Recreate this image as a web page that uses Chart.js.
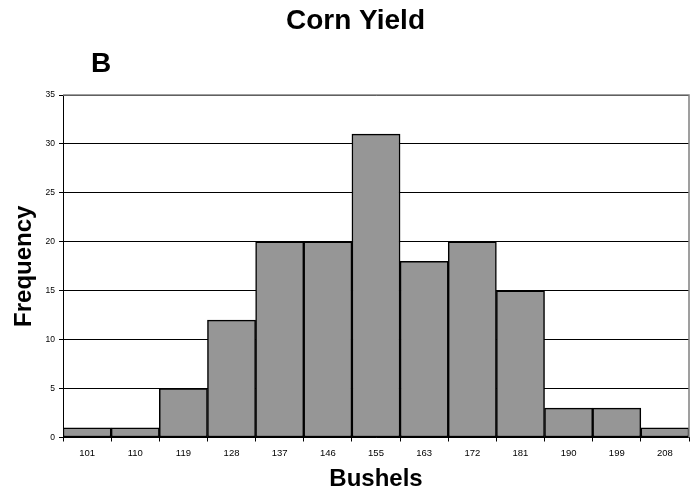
<!DOCTYPE html>
<html>
<head>
<meta charset="utf-8">
<script src="https://cdn.jsdelivr.net/npm/chart.js@4/dist/chart.umd.min.js"></script>
<style>
  body { margin: 0; background: #fff; }
  #wrap { width: 693px; height: 492px; }
</style>
</head>
<body>
<div id="wrap"><canvas id="cornChart" width="693" height="492"></canvas></div>
<script>
const categories = ["101", "110", "119", "128", "137", "146", "155", "163", "172", "181", "190", "199", "208"];
const frequency = [1, 1, 5, 12, 20, 20, 31, 18, 20, 15, 3, 3, 1];
const yMax = 35;
const yStep = 5;

const FONT = "'Liberation Sans', Arial, sans-serif";

// title, panel letter and the grey top/right frame
const extras = {
  id: "extras",
  afterDraw(chart) {
    const ctx = chart.ctx;
    const a = chart.chartArea;
    ctx.save();
    ctx.strokeStyle = "#808080";
    ctx.lineWidth = 1.5;
    ctx.beginPath();
    ctx.moveTo(a.left, a.top);
    ctx.lineTo(a.right, a.top);
    ctx.lineTo(a.right, a.bottom);
    ctx.stroke();

    ctx.fillStyle = "#000";
    ctx.textBaseline = "middle";
    ctx.textAlign = "center";
    ctx.font = "bold 28px " + FONT;
    ctx.fillText("Corn Yield", 355.5, 21);
    ctx.textAlign = "left";
    ctx.font = "bold 28px " + FONT;
    ctx.fillText("B", 91, 64);
    ctx.restore();
  }
};

new Chart(document.getElementById("cornChart"), {
  type: "bar",
  data: {
    labels: categories,
    datasets: [{
      label: "Frequency",
      data: frequency,
      backgroundColor: "#969696",
      borderColor: "#000",
      borderWidth: 1.5,
      borderSkipped: false,
      categoryPercentage: 1,
      barPercentage: 1
    }]
  },
  options: {
    responsive: false,
    animation: false,
    layout: { padding: { left: 0, right: 4, top: 95, bottom: 0 } },
    plugins: {
      legend: { display: false },
      tooltip: { enabled: false }
    },
    scales: {
      x: {
        offset: true,
        grid: { offset: true, drawOnChartArea: false, color: "#000", tickLength: 4 },
        border: { color: "#000", width: 1 },
        ticks: { color: "#000", font: { family: FONT, size: 9.5 }, padding: 6, maxRotation: 0 },
        title: {
          display: true, text: "Bushels", color: "#000",
          font: { family: FONT, size: 24, weight: "bold", lineHeight: 1 },
          padding: { top: 0, bottom: 1 }
        },
        afterFit(scale) { scale.height = 54.5; }
      },
      y: {
        min: 0,
        max: yMax,
        grid: { color: "#000", lineWidth: 1, tickLength: 4 },
        border: { color: "#000", width: 1 },
        ticks: { stepSize: yStep, color: "#000", font: { family: FONT, size: 8.5 }, padding: 4 },
        title: {
          display: true, text: "Frequency", color: "#000",
          font: { family: FONT, size: 24, weight: "bold", lineHeight: 1 },
          padding: { top: 12, bottom: 0 }
        },
        afterFit(scale) { scale.width = 63; }
      }
    }
  },
  plugins: [extras]
});
</script>
</body>
</html>
